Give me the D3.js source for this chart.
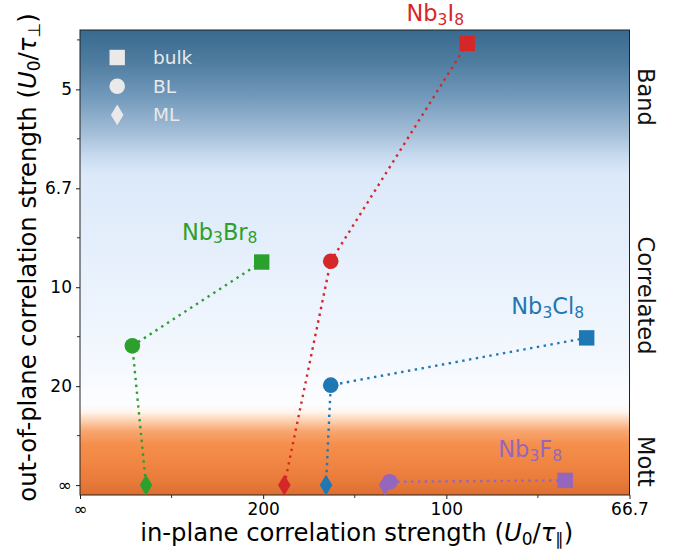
<!DOCTYPE html>
<html>
<head>
<meta charset="utf-8">
<script src="https://cdn.jsdelivr.net/npm/d3@7"></script>
<style>
  html, body { margin: 0; padding: 0; background: #ffffff; }
  svg { display: block; font-family: "DejaVu Sans", sans-serif; }
</style>
</head>
<body>
<svg id="chart" width="682" height="552"></svg>
<script>
// ---- data (values read as U0/tau; Infinity = infinitely strong) ----
const compounds   = ["Nb3I8", "Nb3Br8", "Nb3Cl8", "Nb3F8"];
const elements    = ["I", "Br", "Cl", "F"];
const colors      = ["#d62728", "#2ca02c", "#1f77b4", "#9467bd"];
const inPlaneBulk = [94.6, 201.6, 72.3, 75.5];
const inPlaneBL   = [146.1, 700, 146.1, 118.2];
const inPlaneML   = [179.3, 555, 148.9, 120.1];
const outPlaneBulk = [4.48, 8.87, 13.44, 421];
const outPlaneBL   = [8.84, 14.21, 19.8, 600];
const outPlaneML   = [Infinity, Infinity, Infinity, Infinity];
const layers      = ["bulk", "BL", "ML"];

const xTickValues = [Infinity, 200, 100, 66.667];
const xTickLabels = ["∞", "200", "100", "66.7"];
const yTickValues = [5, 6.6667, 10, 20, Infinity];
const yTickLabels = ["5", "6.7", "10", "20", "∞"];
const regimeLabels = ["Band", "Correlated", "Mott"];

// ---- layout ----
const svg = d3.select("#chart");
const L = 80, R = 629.5, T = 30, B = 495;
const inv = v => 1 / v;
const x = d3.scaleLinear().domain([0, 0.015]).range([L, R]);
const y = d3.scaleLinear().domain([-0.005, 0.23]).range([B, T]);
const X = v => x(inv(v)), Y = v => y(inv(v));

// background gradient
const defs = svg.append("defs");
const grad = defs.append("linearGradient").attr("id", "bg")
  .attr("gradientUnits", "userSpaceOnUse")
  .attr("x1", 0).attr("x2", 0).attr("y1", T).attr("y2", B);
const stops = [
  [0.00, "#386a8f"], [0.07, "#4f7da0"], [0.14, "#7098ba"], [0.22, "#a3bdd7"],
  [0.27, "#c6daef"], [0.31, "#dce9f9"], [0.50, "#e7f0fc"], [0.70, "#f3f8fe"],
  [0.805, "#fcfdff"], [0.822, "#fff4ec"], [0.840, "#fcd2b3"], [0.862, "#f8a771"],
  [0.890, "#f58f4d"], [0.930, "#f18643"], [0.970, "#e87a3a"], [1.00, "#dc6e30"]
];
stops.forEach(s => grad.append("stop").attr("offset", s[0]).attr("stop-color", s[1]));

svg.append("rect").attr("x", L).attr("y", T).attr("width", R - L).attr("height", B - T)
  .attr("fill", "url(#bg)");

// axes
const xAxis = d3.axisBottom(x)
  .tickValues(xTickValues.map(inv))
  .tickFormat((d, i) => xTickLabels[i])
  .tickSize(4).tickPadding(4).tickSizeOuter(0);
const gx = svg.append("g").attr("transform", `translate(0,${B})`).call(xAxis);
const yAxis = d3.axisLeft(y)
  .tickValues(yTickValues.map(inv))
  .tickFormat((d, i) => yTickLabels[i])
  .tickSize(4).tickPadding(4).tickSizeOuter(0);
const gy = svg.append("g").attr("transform", `translate(${L},0)`).call(yAxis);
[gx, gy].forEach(g => {
  g.select(".domain").remove();
  g.selectAll("text").attr("font-size", 17).attr("fill", "#000").attr("font-family", "DejaVu Sans");
  g.selectAll("line").attr("stroke", "#000").attr("stroke-width", 0.9);
});
// minor ticks (midway in tau/U)
svg.append("g").selectAll("line").data(d3.range(0.0025, 0.015, 0.005)).join("line")
  .attr("x1", d => x(d)).attr("x2", d => x(d)).attr("y1", B).attr("y2", B + 3)
  .attr("stroke", "#000").attr("stroke-width", 0.8);
svg.append("g").selectAll("line").data(d3.range(0.025, 0.23, 0.05)).join("line")
  .attr("y1", d => y(d)).attr("y2", d => y(d)).attr("x1", L).attr("x2", L - 3)
  .attr("stroke", "#000").attr("stroke-width", 0.8);

// frame
svg.append("rect").attr("x", L).attr("y", T).attr("width", R - L).attr("height", B - T)
  .attr("fill", "none").attr("stroke", "#222").attr("stroke-width", 1);

// series
const plot = svg.append("g");
const series = compounds.map((c, i) => ({
  name: c, el: elements[i], color: colors[i],
  pts: [
    { layer: "bulk", x: inPlaneBulk[i], y: outPlaneBulk[i] },
    { layer: "BL",   x: inPlaneBL[i],   y: outPlaneBL[i] },
    { layer: "ML",   x: inPlaneML[i],   y: outPlaneML[i] }
  ]
}));
const line = d3.line().x(d => X(d.x)).y(d => Y(d.y));
series.forEach(s => {
  plot.append("path").attr("d", line(s.pts)).attr("fill", "none")
    .attr("stroke", s.color).attr("stroke-width", 2.4)
    .attr("stroke-dasharray", "2.4 4.5");
});

function marker(g, layer, cx, cy, color) {
  if (layer === "bulk") {
    const a = 15.4;
    g.append("rect").attr("x", cx - a / 2).attr("y", cy - a / 2).attr("width", a).attr("height", a).attr("fill", color);
  } else if (layer === "BL") {
    g.append("circle").attr("cx", cx).attr("cy", cy).attr("r", 7.8).attr("fill", color);
  } else {
    const w = 6.3, h = 10.4;
    g.append("path").attr("d", `M${cx},${cy - h}L${cx + w},${cy}L${cx},${cy + h}L${cx - w},${cy}Z`).attr("fill", color);
  }
}
series.forEach(s => {
  s.pts.forEach(p => marker(plot, p.layer, X(p.x), Y(p.y), s.color));
});

// compound labels (offset from bulk marker)
const labelOffsets = [[-32, -22], [-42, -22.5], [-39, -23.5], [-35, -23]];
function formula(g, s, cx, cy) {
  const t = g.append("text").attr("x", cx).attr("y", cy).attr("text-anchor", "middle")
    .attr("font-size", 22.5).attr("fill", s.color);
  t.append("tspan").text("Nb");
  t.append("tspan").attr("font-size", 15.5).attr("dy", 3.5).text("3");
  t.append("tspan").attr("dy", -3.5).text(s.el);
  t.append("tspan").attr("font-size", 15.5).attr("dy", 3.5).text("8");
}
series.forEach((s, i) => {
  const b = s.pts[0];
  formula(svg, s, X(b.x) + labelOffsets[i][0], Y(b.y) + labelOffsets[i][1]);
});

// legend
const lg = svg.append("g");
const legendColor = "#e9e9e9";
layers.forEach((l, i) => {
  const ly = 57.5 + i * 28.7;
  marker(lg, l, 117.2, ly, legendColor);
  lg.append("text").attr("x", 153).attr("y", ly + 6.3).attr("font-size", 18.5)
    .attr("fill", legendColor).text(l);
});

// regime labels on the right
const regimeY = [97, 295.5, 461.5];
regimeLabels.forEach((r, i) => {
  svg.append("text").attr("transform", `translate(637.5,${regimeY[i]}) rotate(90)`)
    .attr("text-anchor", "middle").attr("font-size", 22.5).attr("fill", "#111").text(r);
});

// axis titles
function axisTitle(t, sub) {
  t.append("tspan").text(t.attr("data-pre"));
  t.append("tspan").text("(");
  t.append("tspan").attr("font-style", "italic").text("U");
  t.append("tspan").attr("font-size", 17).attr("dy", 3.8).text("0");
  t.append("tspan").attr("dy", -3.8).text("/");
  t.append("tspan").attr("font-style", "italic").text("τ");
  t.append("tspan").attr("font-size", 17).attr("dy", 3.8).text(sub);
  t.append("tspan").attr("dy", -3.8).text(")");
}
const xt = svg.append("text").attr("x", (L + R) / 2 + 2).attr("y", 541)
  .attr("text-anchor", "middle").attr("font-size", 24.3).attr("fill", "#000")
  .attr("data-pre", "in-plane correlation strength ");
axisTitle(xt, "\u2225");
const yt = svg.append("text").attr("transform", `translate(36,${(T + B) / 2 - 5}) rotate(-90)`)
  .attr("text-anchor", "middle").attr("font-size", 24.3).attr("fill", "#000")
  .attr("data-pre", "out-of-plane correlation strength ");
axisTitle(yt, "\u22a5");
</script>
</body>
</html>
